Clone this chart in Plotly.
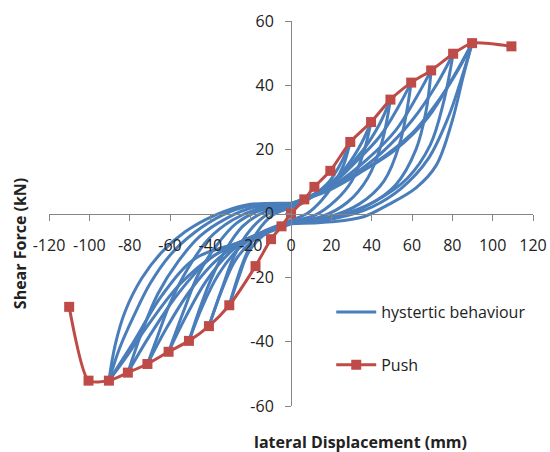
import plotly.graph_objects as go

# ---------------- data ----------------
push_x = [-110, -100.4, -90.3, -80.9, -71.2, -60.7, -50.6, -40.7, -30.6, -17.6, -9.9, -4.7,
          0, 6.6, 11.6, 19.5, 29.4, 39.7, 49.3, 59.6, 69.5, 80.4, 89.8, 109.3]
push_y = [-29.1, -52.1, -52.1, -49.6, -46.9, -43.1, -39.7, -35.1, -28.6, -16.4, -8.0, -4.0,
          0, 4.4, 8.3, 13.3, 22.3, 28.5, 35.5, 40.8, 44.6, 49.8, 53.1, 52.1]

# positive reloading branches (from near origin up to positive peak)
pos_reload_x = [
    [0, 8, 15, 21, 26, 29.4],
    [0, 12, 22, 30, 36, 39.7],
    [0, 15, 28, 38, 45, 49.3],
    [0, 18, 34, 46, 54, 59.6],
    [0, 20, 38, 52, 62, 67, 69.5],
    [0, 24, 41, 57.6, 69, 75.7, 80.4],
    [0, 22, 40, 55, 68, 78, 85, 89.8],
    [0, 20, 36, 48, 62, 72, 80, 85.5, 89.8],
]
pos_reload_y = [
    [-2.0, 0, 4, 9, 15, 22.3],
    [-2.3, -0.5, 4, 10, 19, 28.5],
    [-2.5, -1, 3.5, 11, 22, 35.5],
    [-2.7, -1.2, 3, 10, 22, 40.8],
    [-2.9, -1.5, 2.5, 9, 20, 32, 44.6],
    [-3.0, -0.5, 3.6, 10.9, 21.3, 34.8, 49.8],
    [-3.0, -1.5, 2, 8, 17, 30, 43, 53.1],
    [-3.2, -2.6, -1, 2.7, 8, 15, 29, 43, 53.1],
]

# positive unloading branches (from positive peak back to origin)
pos_unload_x = [
    [29.4, 25, 19, 12, 5, 0],
    [39.7, 35, 28, 19, 9, 0],
    [49.3, 44, 36, 26, 14, 0],
    [59.6, 53, 44, 32, 20, 0],
    [69.5, 62, 52, 38, 24, 10, 0],
    [80.4, 72, 60, 45, 28, 12, 0],
    [89.8, 80, 68, 52, 35, 18, 0],
    [89.8, 84, 74, 60, 42, 22, 0],
]
pos_unload_y = [
    [22.3, 16, 10, 6, 3, 1.8],
    [28.5, 22, 15, 9, 5, 2.0],
    [35.5, 28, 20, 13, 7, 2.2],
    [40.8, 33, 24, 16, 9, 2.4],
    [44.6, 36, 26, 17, 10, 5, 2.6],
    [49.8, 40, 29, 19, 11, 6, 2.8],
    [53.1, 42, 30, 20, 13, 7, 3.2],
    [53.1, 46, 36, 25, 16, 9, 3.0],
]

# negative loading arcs (from origin down to negative peak)
neg_load_x = [
    [0, -9, -17, -23, -27, -30.6],
    [0, -11, -20, -28, -34, -40.7],
    [0, -13, -24, -33, -40, -46, -50.6],
    [0, -15, -27, -37, -46, -53, -60.7],
    [0, -16, -29, -41, -51, -60, -66, -71.2],
    [0, -18, -32, -45, -56, -66, -74, -80.9],
    [0, -20, -34, -48, -60, -70, -78, -85, -90.3],
    [0, -22.7, -37.6, -52.5, -64, -74, -82.3, -87.2, -90.3],
]
neg_load_y = [
    [1.8, -0.5, -6, -14, -21, -28.6],
    [2.0, 0, -5, -13, -23, -35.1],
    [2.2, 0.5, -4, -12, -21, -31, -39.7],
    [2.4, 1, -3, -10, -19, -30, -43.1],
    [2.6, 1.5, -2, -8, -17, -28, -38, -46.9],
    [2.8, 2, -1.5, -7, -15, -25, -37, -49.6],
    [3.0, 2.5, -0.5, -6, -13, -22, -32, -42, -52.1],
    [3.2, 2.6, -0.5, -5.7, -12, -20.2, -30.6, -41, -52.1],
]

# negative reloading branches (from negative peak back to origin)
neg_reload_x = [
    [-30.6, -26, -21, -14, -6, 0],
    [-40.7, -35, -28, -20, -10, 0],
    [-50.6, -44, -36, -26, -15, 0],
    [-60.7, -52, -42, -30, -18, 0],
    [-71.2, -62, -50, -36, -22, 0],
    [-80.9, -70, -56, -40, -24, 0],
    [-90.3, -82, -70, -55, -38, -22, 0],
    [-90.3, -78, -64, -47.5, -28, -12, 0],
]
neg_reload_y = [
    [-28.6, -20, -12, -7, -4, -2.0],
    [-35.1, -25, -15, -9, -5, -2.2],
    [-39.7, -29, -19, -11, -6, -2.4],
    [-43.1, -32, -21, -12, -7, -2.6],
    [-46.9, -36, -24, -14, -8, -2.8],
    [-49.6, -38, -25, -14, -8.5, -3.0],
    [-52.1, -45, -34, -22, -13, -8, -3.0],
    [-52.1, -40, -25.5, -14, -9.5, -6, -3.2],
]

x_ticks = [-120, -100, -80, -60, -40, -20, 0, 20, 40, 60, 80, 100, 120]
y_ticks = [-60, -40, -20, 0, 20, 40, 60]

# -------------- build hysteresis path (branches separated by gaps) --------------
hx, hy = [], []
for i in range(len(pos_reload_x)):
    for bx, by in ((pos_reload_x[i], pos_reload_y[i]),
                   (pos_unload_x[i], pos_unload_y[i]),
                   (neg_load_x[i], neg_load_y[i]),
                   (neg_reload_x[i], neg_reload_y[i])):
        hx += list(bx) + [None]
        hy += list(by) + [None]

BLUE = "#4A7EBB"
RED = "#BE4B48"
AXIS = "#868686"
FONT = "Open Sans"

fig = go.Figure()
fig.add_trace(go.Scatter(
    x=hx, y=hy, mode="lines", name="hystertic behaviour",
    line=dict(color=BLUE, width=3, shape="spline", smoothing=1),
    connectgaps=False, legendgroup="a"))
fig.add_trace(go.Scatter(
    x=push_x, y=push_y, mode="lines+markers", name="Push",
    line=dict(color=RED, width=3, shape="spline", smoothing=0.6),
    marker=dict(symbol="square", size=10, color=RED), legendgroup="b"))

W, H = 550, 452
pl, pt = 49, 20.7
pw, ph = 483.6, 385.2
pr, pb = W - pl - pw, H - pt - ph

def px2paper(px, py):
    return (px - pl) / pw, (pt + ph - py) / ph

xt_x, xt_y = px2paper(360, 441.7)
yt_x, yt_y = px2paper(20, 243)
lg_x, lg_y = px2paper(331, 295)

fig.update_layout(
    width=W, height=H,
    margin=dict(l=pl, r=pr, t=pt, b=pb, autoexpand=False),
    paper_bgcolor="white", plot_bgcolor="white",
    font=dict(family=FONT, size=16, color="#222"),
    showlegend=True,
    legend=dict(x=lg_x, y=lg_y, xanchor="left", yanchor="top",
                bgcolor="rgba(0,0,0,0)", font=dict(size=16, color="#222"),
                tracegroupgap=29, itemwidth=40),
    xaxis=dict(range=[-120, 120], tickvals=x_ticks, ticktext=[str(v) for v in x_ticks],
               anchor="free", position=0.5, showline=True, linecolor=AXIS, linewidth=1,
               ticks="outside", ticklen=6, tickcolor=AXIS, showgrid=False, zeroline=False,
               automargin=False,
               ticklabelstandoff=11, tickfont=dict(size=16, color="#222")),
    yaxis=dict(range=[-60, 60], tickvals=y_ticks, ticktext=[str(v) for v in y_ticks],
               anchor="free", position=0.5, showline=True, linecolor=AXIS, linewidth=1,
               ticks="outside", ticklen=6, tickcolor=AXIS, showgrid=False, zeroline=False,
               automargin=False,
               ticklabelstandoff=8, tickfont=dict(size=16, color="#222")),
    annotations=[
        dict(text="<b>lateral Displacement (mm)</b>", x=xt_x, y=xt_y, xref="paper", yref="paper",
             xanchor="center", yanchor="middle", showarrow=False,
             font=dict(size=16, color="#222")),
        dict(text="<b>Shear Force (kN)</b>", x=yt_x, y=yt_y, xref="paper", yref="paper",
             xanchor="center", yanchor="middle", textangle=-90, showarrow=False,
             font=dict(size=16, color="#222")),
    ],
)

fig.write_html("out.html", config={"displayModeBar": False},
               post_script="document.body.style.margin='0';document.body.style.overflow='hidden';")
